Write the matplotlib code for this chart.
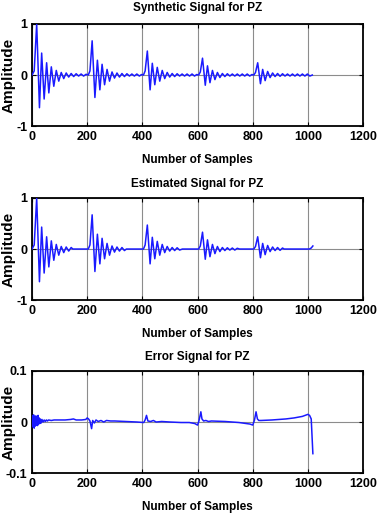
import matplotlib
matplotlib.use("Agg")
import matplotlib.pyplot as plt

# ---- data (extrema / vertices of each trace) ----
synth_x = [0, 8, 17, 27, 35, 44, 53, 61, 70, 79, 88, 97, 106, 115, 124, 133, 142, 151, 160, 169, 178, 187, 196,
           204, 210, 218, 228, 237, 246, 254, 263, 272, 281, 290, 299, 308, 317, 326, 335, 344, 353, 362, 371, 380, 389, 397,
           404, 410, 418, 428, 436, 445, 454, 463, 472, 481, 490, 499, 508, 517, 526, 535, 544, 553, 562, 571, 580, 589, 597,
           604, 610, 618, 628, 636, 645, 654, 663, 672, 681, 690, 699, 708, 717, 726, 735, 744, 753, 762, 771, 780, 789, 797,
           804, 810, 818, 828, 836, 845, 854, 863, 872, 881, 890, 899, 908, 917, 926, 935, 944, 953, 962, 971, 980, 989, 998, 1007, 1016]
synth_y = [0.0, 0.08, 1.0, -0.64, 0.43, -0.47, 0.24, -0.35, 0.16, -0.22, 0.09, -0.12, 0.05, -0.07, 0.04, -0.04, 0.03, -0.03, 0.025, -0.02, 0.02, -0.02, 0.015,
           0.0, 0.08, 0.67, -0.44, 0.29, -0.29, 0.21, -0.19, 0.11, -0.12, 0.06, -0.06, 0.04, -0.04, 0.03, -0.03, 0.025, -0.02, 0.02, -0.02, 0.02, -0.02, 0.01,
           0.0, 0.08, 0.47, -0.29, 0.23, -0.19, 0.15, -0.12, 0.09, -0.07, 0.05, -0.04, 0.03, -0.03, 0.025, -0.02, 0.02, -0.02, 0.02, -0.02, 0.02, -0.02, 0.01,
           0.0, 0.06, 0.33, -0.20, 0.18, -0.15, 0.09, -0.09, 0.05, -0.05, 0.03, -0.03, 0.025, -0.02, 0.02, -0.02, 0.02, -0.02, 0.02, -0.02, 0.02, -0.02, 0.01,
           0.0, 0.05, 0.24, -0.17, 0.11, -0.11, 0.07, -0.05, 0.04, -0.03, 0.03, -0.025, 0.025, -0.02, 0.02, -0.02, 0.02, -0.02, 0.02, -0.02, 0.02, -0.02, 0.02, -0.02, 0.0]

est_x = [0, 8, 17, 27, 35, 44, 53, 61, 70, 79, 88, 97, 106, 115, 124, 133, 142, 148,
         204, 210, 218, 228, 237, 246, 254, 263, 272, 281, 290, 299, 308, 317, 326, 335, 342,
         404, 410, 418, 428, 436, 445, 454, 463, 472, 481, 490, 499, 508, 517, 526, 535, 545,
         604, 610, 618, 628, 636, 645, 654, 663, 672, 681, 690, 699, 708, 717, 726, 735, 744, 752,
         804, 810, 818, 828, 836, 845, 854, 863, 872, 881, 890, 899, 908, 914,
         1005, 1012, 1018]
est_y = [0.0, 0.08, 1.0, -0.64, 0.43, -0.47, 0.24, -0.35, 0.16, -0.22, 0.09, -0.12, 0.05, -0.07, 0.04, -0.04, 0.03, 0.0,
         0.0, 0.08, 0.67, -0.44, 0.29, -0.29, 0.21, -0.19, 0.11, -0.12, 0.06, -0.06, 0.04, -0.04, 0.03, -0.03, 0.0,
         0.0, 0.08, 0.47, -0.29, 0.23, -0.19, 0.15, -0.12, 0.09, -0.07, 0.05, -0.04, 0.03, -0.03, 0.025, -0.02, 0.0,
         0.0, 0.06, 0.33, -0.20, 0.18, -0.15, 0.09, -0.09, 0.05, -0.05, 0.03, -0.03, 0.025, -0.02, 0.02, -0.02, 0.015, 0.0,
         0.0, 0.05, 0.24, -0.17, 0.11, -0.11, 0.07, -0.05, 0.04, -0.03, 0.03, -0.025, 0.02, 0.0,
         0.0, 0.02, 0.06]

err_x = [0, 2, 4, 6, 8, 10, 12, 14, 16, 18, 20, 22, 24, 26, 28, 30, 33, 36, 40, 44, 48, 52, 56, 60, 70, 80, 100, 120, 140, 150, 160,
         180, 195, 200, 205, 210, 216, 220, 226, 232, 240, 250, 260, 270, 285, 300, 340, 380, 405, 410, 415, 420, 430, 440,
         450, 470, 500, 540, 570, 590, 600, 605, 612, 616, 622, 630, 640, 650, 700, 750, 790, 800, 806, 812, 817, 822, 830,
         870, 920, 950, 980, 1000, 1006, 1012, 1018]
err_y = [0.0, 0.012, -0.010, 0.014, -0.012, 0.010, -0.008, 0.012, -0.006, 0.010, -0.007, 0.013, -0.004, 0.008, -0.003, 0.006, -0.002, 0.005, 0.0, 0.004, 0.001, 0.004, 0.002, 0.004, 0.003, 0.004, 0.004, 0.004, 0.005, 0.006, 0.004,
         0.004, 0.005, 0.008, 0.006, 0.002, -0.013, 0.003, -0.002, 0.004, 0.001, 0.003, 0.0, 0.003, 0.002, 0.002, 0.001, 0.0, -0.001, 0.004, 0.013, 0.002, 0.001, 0.003,
         0.0, 0.001, 0.0, -0.001, -0.001, -0.003, -0.006, 0.002, 0.020, 0.006, 0.002, 0.003, 0.001, 0.002, 0.001, -0.001, -0.004, -0.006, 0.003, 0.020, 0.006, 0.003, 0.003,
         0.004, 0.006, 0.008, 0.011, 0.015, 0.013, 0.006, -0.062]

xticks = [0, 200, 400, 600, 800, 1000, 1200]
sig_yticks = [-1, 0, 1]
sig_yticklabels = ["-1", "0", "1"]
err_yticks = [-0.1, 0, 0.1]
err_yticklabels = ["-0.1", "0", "0.1"]

panels = [
    ("Synthetic Signal for PZ", synth_x, synth_y, sig_yticks, sig_yticklabels, (-1, 1)),
    ("Estimated Signal for PZ", est_x, est_y, sig_yticks, sig_yticklabels, (-1, 1)),
    ("Error Signal for PZ", err_x, err_y, err_yticks, err_yticklabels, (-0.1, 0.1)),
]

plt.rcParams["font.family"] = ["Liberation Sans", "DejaVu Sans"]
plt.rcParams["font.weight"] = "bold"

fig = plt.figure(figsize=(3.81, 5.21), dpi=100)
bottoms = [0.758, 0.424, 0.092]
title_pad = [9, 8, 8]

for i, (title, xs, ys, yt, ytl, ylim) in enumerate(panels):
    ax = fig.add_axes([0.084, bottoms[i], 0.869, 0.196])
    ax.plot(xs, ys, color="#1a1aff", linewidth=1.1, zorder=3)
    ax.set_xlim(0, 1200)
    ax.set_ylim(*ylim)
    ax.set_xticks(xticks)
    ax.set_yticks(yt)
    ax.set_yticklabels(ytl)
    ax.grid(True, color="0.55", linewidth=0.8, linestyle="-")
    ax.tick_params(direction="in", top=True, right=True, length=3, width=0.8,
                   labelsize=9, pad=3.5)
    for sp in ax.spines.values():
        sp.set_linewidth(1.3)
    ax.set_title(title, fontsize=8.5, fontweight="bold", pad=title_pad[i])
    ax.set_xlabel("Number of Samples", fontsize=8.5, fontweight="bold", labelpad=8)
    ax.set_ylabel("Amplitude", fontsize=11, fontweight="bold")
    ax.yaxis.set_label_coords(-0.05, 0.5)

fig.savefig("out.png", dpi=100)
